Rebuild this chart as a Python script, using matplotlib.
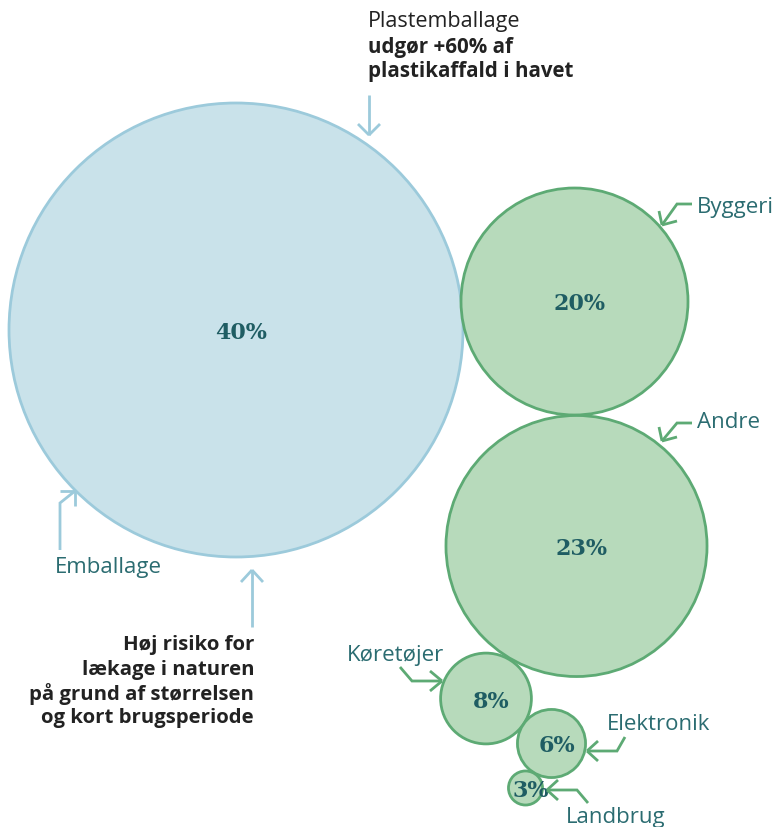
import matplotlib.pyplot as plt
from matplotlib.patches import Circle

# data
kategorier = ['Emballage', 'Byggeri', 'Andre', 'Køretøjer', 'Elektronik', 'Landbrug']
andele = [40, 20, 23, 8, 6, 3]

# layout (pixels, y down)
centre = [(236, 330), (574.5, 301.5), (576.5, 546), (486, 698.5), (551.5, 743.5), (525.5, 788)]
px_pr_procent = 5.675

blaa_fyld, blaa_kant = '#c9e2ea', '#9ccadb'
groen_fyld, groen_kant = '#b7dabb', '#5daa74'
tekst_teal = '#1f5d63'
label_teal = '#2b6c71'
sort = '#222222'
skrift = 'Open Sans'

fig = plt.figure(figsize=(7.8, 8.27), dpi=100)
ax = fig.add_axes([0, 0, 1, 1])
ax.set_xlim(0, 780)
ax.set_ylim(827, 0)
ax.set_aspect('equal')
ax.axis('off')

for i, (kat, v) in enumerate(zip(kategorier, andele)):
    cx, cy = centre[i]
    r = v * px_pr_procent
    fyld, kant = (blaa_fyld, blaa_kant) if i == 0 else (groen_fyld, groen_kant)
    ax.add_patch(Circle((cx, cy), r, facecolor=fyld, edgecolor=kant, linewidth=2, zorder=2))
    ax.text(cx + 5, cy + 3, f'{v}%', ha='center', va='center', fontsize=16,
            fontweight='heavy', family='DejaVu Serif', color=tekst_teal, zorder=3)


def pil(punkter, arme, farve):
    xs, ys = zip(*punkter)
    ax.plot(xs, ys, color=farve, lw=2, solid_capstyle='butt', solid_joinstyle='miter', zorder=4)
    tip = punkter[-1]
    for a in arme:
        ax.plot([a[0], tip[0]], [a[1], tip[1]], color=farve, lw=2,
                solid_capstyle='butt', zorder=4)


# blue arrows
pil([(369, 95), (369, 135)], [(358, 124), (380, 124)], blaa_kant)
pil([(60, 550), (60, 503), (75, 491)], [(60, 491), (75, 506)], blaa_kant)
pil([(252, 627), (252, 570)], [(241, 582), (263, 582)], blaa_kant)

# green arrows
pil([(692, 204), (677, 204), (662, 225)], [(659, 211), (677, 221)], groen_kant)
pil([(692, 423), (677, 423), (662, 441)], [(659, 427), (677, 437)], groen_kant)
pil([(400, 667), (412, 681), (442, 681)], [(430, 671), (430, 691)], groen_kant)
pil([(625, 737), (617, 751), (587, 751)], [(598, 741), (598, 761)], groen_kant)
pil([(588, 803), (577, 790), (547, 790)], [(558, 780), (558, 800)], groen_kant)

# labels
fs = 16
ax.text(55, 568, kategorier[0], fontsize=fs, family=skrift, color=label_teal, va='center', ha='left')
ax.text(697, 207, kategorier[1], fontsize=fs, family=skrift, color=label_teal, va='center', ha='left')
ax.text(697, 423, kategorier[2], fontsize=fs, family=skrift, color=label_teal, va='center', ha='left')
ax.text(347, 655, kategorier[3], fontsize=fs, family=skrift, color=label_teal, va='center', ha='left')
ax.text(607, 725, kategorier[4], fontsize=fs, family=skrift, color=label_teal, va='center', ha='left')
ax.text(566, 818, kategorier[5], fontsize=fs, family=skrift, color=label_teal, va='center', ha='left')

# annotations
ax.text(368, 22, 'Plastemballage', fontsize=15.5, family=skrift, color=sort, va='center', ha='left')
ax.text(368, 47, 'udgør +60% af', fontsize=14.8, family=skrift, fontweight='bold', color=sort, va='center', ha='left')
ax.text(368, 72, 'plastikaffald i havet', fontsize=14.8, family=skrift, fontweight='bold', color=sort, va='center', ha='left')

linjer = ['Høj risiko for', 'lækage i naturen', 'på grund af størrelsen', 'og kort brugsperiode']
for j, l in enumerate(linjer):
    ax.text(254, 645 + j * 24.5, l, fontsize=14.7, family=skrift, fontweight='bold', color=sort,
            va='center', ha='right')

fig.savefig('out.png', dpi=100)
